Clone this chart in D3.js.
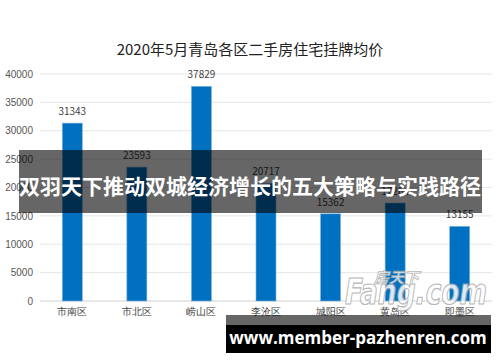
<!DOCTYPE html>
<html>
<head>
<meta charset="utf-8">
<script src="https://cdn.jsdelivr.net/npm/d3@7"></script>
<style>
  body { margin: 0; background: #fff; }
  svg { display: block; font-family: "Noto Sans CJK SC", "Noto Sans", sans-serif; }
</style>
</head>
<body>
<div id="chart"></div>
<script>
var districts = ["市南区", "市北区", "崂山区", "李沧区", "城阳区", "黄岛区", "即墨区"];
var prices = [31343, 23593, 37829, 20717, 15362, 17264, 13155];
var yTicks = [0, 5000, 10000, 15000, 20000, 25000, 30000, 35000, 40000];

var svgWidth = 500;
var svgHeight = 362;
var margin = { top: 74, right: 8, bottom: 61, left: 40 };
var width = svgWidth - margin.left - margin.right;
var height = svgHeight - margin.top - margin.bottom;

var svg = d3.select("#chart")
    .append("svg")
    .attr("width", svgWidth)
    .attr("height", svgHeight);

// title
svg.append("text")
    .attr("x", 250)
    .attr("y", 55)
    .attr("text-anchor", "middle")
    .style("font-size", "15px")
    .style("fill", "#222")
    .text("2020年5月青岛各区二手房住宅挂牌均价");

var chartGroup = svg.append("g")
    .attr("transform", `translate(${margin.left}, ${margin.top})`);

var x = d3.scaleBand()
    .domain(districts)
    .range([0, width])
    .paddingInner(0.69)
    .paddingOuter(0.345);

var y = d3.scaleLinear()
    .domain([0, 40000])
    .range([height, 0]);

// gridlines
chartGroup.append("g")
    .selectAll("line")
    .data(yTicks)
    .enter()
    .append("line")
    .attr("x1", 0)
    .attr("x2", width)
    .attr("y1", d => y(d))
    .attr("y2", d => y(d))
    .attr("stroke", d => d === 0 ? "#d0d0d0" : "#e6e6e6")
    .attr("stroke-width", 1);

// y axis labels
var leftAxis = d3.axisLeft(y).tickValues(yTicks).tickFormat(d3.format("d")).tickSize(0).tickPadding(7);
var yAxis = chartGroup.append("g").call(leftAxis);
yAxis.select(".domain").remove();
yAxis.selectAll("text").style("font-size", "10px").style("fill", "#555");

// x axis labels
var bottomAxis = d3.axisBottom(x).tickSize(0).tickPadding(7);
var xAxis = chartGroup.append("g")
    .attr("transform", `translate(0, ${height})`)
    .call(bottomAxis);
xAxis.select(".domain").remove();
xAxis.selectAll("text").style("font-size", "10px").style("fill", "#444");

// bars
chartGroup.selectAll("rect.bar")
    .data(prices)
    .enter()
    .append("rect")
    .attr("class", "bar")
    .attr("x", (d, i) => x(districts[i]))
    .attr("y", d => y(d))
    .attr("width", x.bandwidth())
    .attr("height", d => height - y(d))
    .attr("fill", "#0070c0")
    .attr("stroke", "#7fb3de")
    .attr("stroke-width", 0.6);

// value labels
chartGroup.selectAll("text.val")
    .data(prices)
    .enter()
    .append("text")
    .attr("class", "val")
    .attr("x", (d, i) => x(districts[i]) + x.bandwidth() / 2)
    .attr("y", d => y(d) - 8)
    .attr("text-anchor", "middle")
    .style("font-size", "10px")
    .style("fill", "#404040")
    .text(d => d);

// watermark
var wm = svg.append("g").attr("opacity", 0.85);
wm.append("text")
    .attr("x", 345)
    .attr("y", 304)
    .attr("textLength", 142)
    .attr("lengthAdjust", "spacingAndGlyphs")
    .style("font-family", "DejaVu Sans, sans-serif")
    .style("font-size", "36px")
    .style("font-weight", "bold")
    .style("font-style", "italic")
    .style("fill", "#fff")
    .style("stroke", "#aaa")
    .style("stroke-width", 1.2)
    .text("Fang.com");
wm.append("text")
    .attr("x", 374)
    .attr("y", 283)
    .style("font-size", "15px")
    .style("font-weight", "bold")
    .style("font-style", "italic")
    .style("fill", "#fff")
    .style("stroke", "#aaa")
    .style("stroke-width", 0.8)
    .text("房天下");

// overlay banner
svg.append("rect")
    .attr("x", 19)
    .attr("y", 150)
    .attr("width", 463)
    .attr("height", 63)
    .attr("fill", "#000")
    .attr("opacity", 0.6);
svg.append("text")
    .attr("x", 250)
    .attr("y", 194)
    .attr("text-anchor", "middle")
    .style("font-size", "21px")
    .style("font-weight", "bold")
    .style("fill", "#fff")
    .text("双羽天下推动双城经济增长的五大策略与实践路径");

// bottom banner
svg.append("rect")
    .attr("x", 226)
    .attr("y", 315)
    .attr("width", 265)
    .attr("height", 10)
    .attr("fill", "#000")
    .attr("opacity", 0.6);
svg.append("rect")
    .attr("x", 226)
    .attr("y", 325)
    .attr("width", 265)
    .attr("height", 28)
    .attr("fill", "#000");
svg.append("text")
    .attr("x", 358)
    .attr("y", 344)
    .attr("text-anchor", "middle")
    .style("font-family", "Open Sans, sans-serif")
    .style("font-size", "17px")
    .style("font-weight", "bold")
    .style("fill", "#fff")
    .text("www.member-pazhenren.com");
</script>
</body>
</html>
